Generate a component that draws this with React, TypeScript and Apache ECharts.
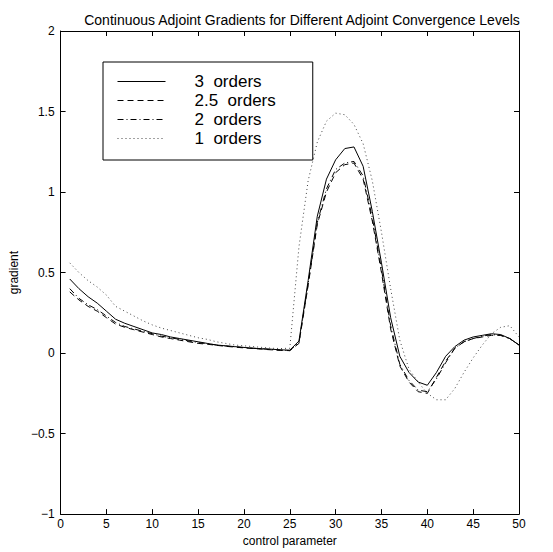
import React, { useEffect, useRef } from "react";
import * as echarts from "echarts";

const xValues = Array.from({ length: 50 }, (_, i) => i + 1);
const seriesNames = ["3  orders", "2.5  orders", "2  orders", "1  orders"];
const orders3 = [0.46, 0.40, 0.35, 0.31, 0.26, 0.21, 0.185, 0.165, 0.145, 0.125, 0.115, 0.10, 0.09, 0.08, 0.07, 0.06, 0.05, 0.045, 0.04, 0.035, 0.03, 0.027, 0.024, 0.02, 0.018, 0.075, 0.45, 0.85, 1.08, 1.20, 1.27, 1.28, 1.16, 0.88, 0.56, 0.22, -0.02, -0.12, -0.18, -0.20, -0.12, -0.02, 0.04, 0.08, 0.10, 0.11, 0.12, 0.115, 0.09, 0.05];
const orders25 = [0.38, 0.33, 0.29, 0.26, 0.22, 0.18, 0.16, 0.145, 0.13, 0.115, 0.10, 0.09, 0.08, 0.07, 0.06, 0.055, 0.048, 0.042, 0.037, 0.032, 0.028, 0.024, 0.02, 0.017, 0.015, 0.06, 0.42, 0.80, 1.00, 1.12, 1.17, 1.18, 1.08, 0.82, 0.50, 0.15, -0.08, -0.18, -0.24, -0.25, -0.15, -0.05, 0.03, 0.07, 0.09, 0.10, 0.11, 0.11, 0.09, 0.05];
const orders2 = [0.40, 0.34, 0.30, 0.27, 0.23, 0.19, 0.165, 0.15, 0.135, 0.12, 0.105, 0.095, 0.085, 0.075, 0.065, 0.058, 0.05, 0.044, 0.039, 0.034, 0.03, 0.026, 0.022, 0.018, 0.016, 0.065, 0.43, 0.81, 1.02, 1.14, 1.18, 1.19, 1.10, 0.84, 0.52, 0.17, -0.07, -0.17, -0.23, -0.24, -0.16, -0.06, 0.03, 0.07, 0.09, 0.105, 0.115, 0.11, 0.09, 0.05];
const orders1 = [0.56, 0.50, 0.45, 0.41, 0.36, 0.29, 0.26, 0.23, 0.20, 0.175, 0.155, 0.14, 0.125, 0.11, 0.095, 0.085, 0.07, 0.06, 0.05, 0.045, 0.04, 0.035, 0.03, 0.028, 0.03, 0.66, 1.07, 1.31, 1.44, 1.49, 1.48, 1.42, 1.30, 1.07, 0.75, 0.40, 0.08, -0.10, -0.18, -0.25, -0.29, -0.29, -0.22, -0.12, -0.03, 0.05, 0.12, 0.16, 0.17, 0.10];
const allSeries = [orders3, orders25, orders2, orders1];
const dashTypes: any[] = ["solid", [6, 4], [6, 3, 1, 3], [1, 3]];
const lineColors = ["#000", "#000", "#000", "#444"];

const FONT = "Liberation Sans, Arial, Helvetica, sans-serif";

export default function App() {
  const ref = useRef<HTMLDivElement>(null);
  useEffect(() => {
    const chart = echarts.init(ref.current!, null, { renderer: "svg" });
    const axisCommon = {
      axisLine: { show: true, onZero: false, lineStyle: { color: "#000", width: 1 } },
      axisTick: { show: true, inside: true, length: 5, lineStyle: { color: "#000" } },
      splitLine: { show: false },
    };
    chart.setOption({
      animation: false,
      backgroundColor: "#fff",
      title: {
        text: "Continuous Adjoint Gradients for Different Adjoint Convergence Levels",
        left: 297,
        textAlign: "center",
        top: 8,
        textStyle: { fontFamily: FONT, fontSize: 14, fontWeight: "normal", color: "#000" },
      },
      legend: {
        orient: "vertical",
        left: 103,
        top: 62,
        padding: [11, 37, 13, 14],
        itemGap: 2,
        itemWidth: 48,
        itemHeight: 14,
        backgroundColor: "#fff",
        borderColor: "#000",
        borderWidth: 1,
        borderRadius: 0,
        data: seriesNames,
        itemStyle: { opacity: 0 },
        lineStyle: { width: 1 },
        textStyle: {
          fontFamily: FONT,
          fontSize: 17,
          lineHeight: 15,
          color: "#000",
          padding: [0, 0, 0, 24],
        },
      },
      grid: { left: 56, right: 34, top: 31, bottom: 37, containLabel: false },
      xAxis: [
        {
          type: "value",
          min: 0,
          max: 50,
          interval: 5,
          name: "control parameter",
          nameLocation: "middle",
          nameGap: 20,
          nameTextStyle: { fontFamily: FONT, fontSize: 12, color: "#000" },
          axisLabel: { fontFamily: FONT, fontSize: 12, color: "#000", margin: 4 },
          ...axisCommon,
        },
        {
          type: "value",
          position: "top",
          min: 0,
          max: 50,
          interval: 5,
          axisLabel: { show: false },
          ...axisCommon,
        },
      ],
      yAxis: [
        {
          type: "value",
          min: -1,
          max: 2,
          interval: 0.5,
          name: "gradient",
          nameLocation: "middle",
          nameGap: 40,
          nameTextStyle: { fontFamily: FONT, fontSize: 12, color: "#000" },
          axisLabel: {
            fontFamily: FONT,
            fontSize: 12,
            color: "#000",
            margin: 6,
            formatter: (v: number) => String(v).replace("-", "\u2212"),
          },
          ...axisCommon,
        },
        {
          type: "value",
          position: "right",
          min: -1,
          max: 2,
          interval: 0.5,
          axisLabel: { show: false },
          ...axisCommon,
        },
      ],
      series: allSeries.map((vals, i) => ({
        name: seriesNames[i],
        type: "line",
        symbol: "none",
        data: vals.map((v, j) => [xValues[j], v]),
        lineStyle: { color: lineColors[i], width: 1, type: dashTypes[i] },
        itemStyle: { color: lineColors[i] },
      })),
    });
    return () => chart.dispose();
  }, []);
  return (
    <div
      ref={ref}
      style={{ position: "fixed", left: 0, top: 0, width: 553, height: 552, background: "#fff" }}
    />
  );
}
